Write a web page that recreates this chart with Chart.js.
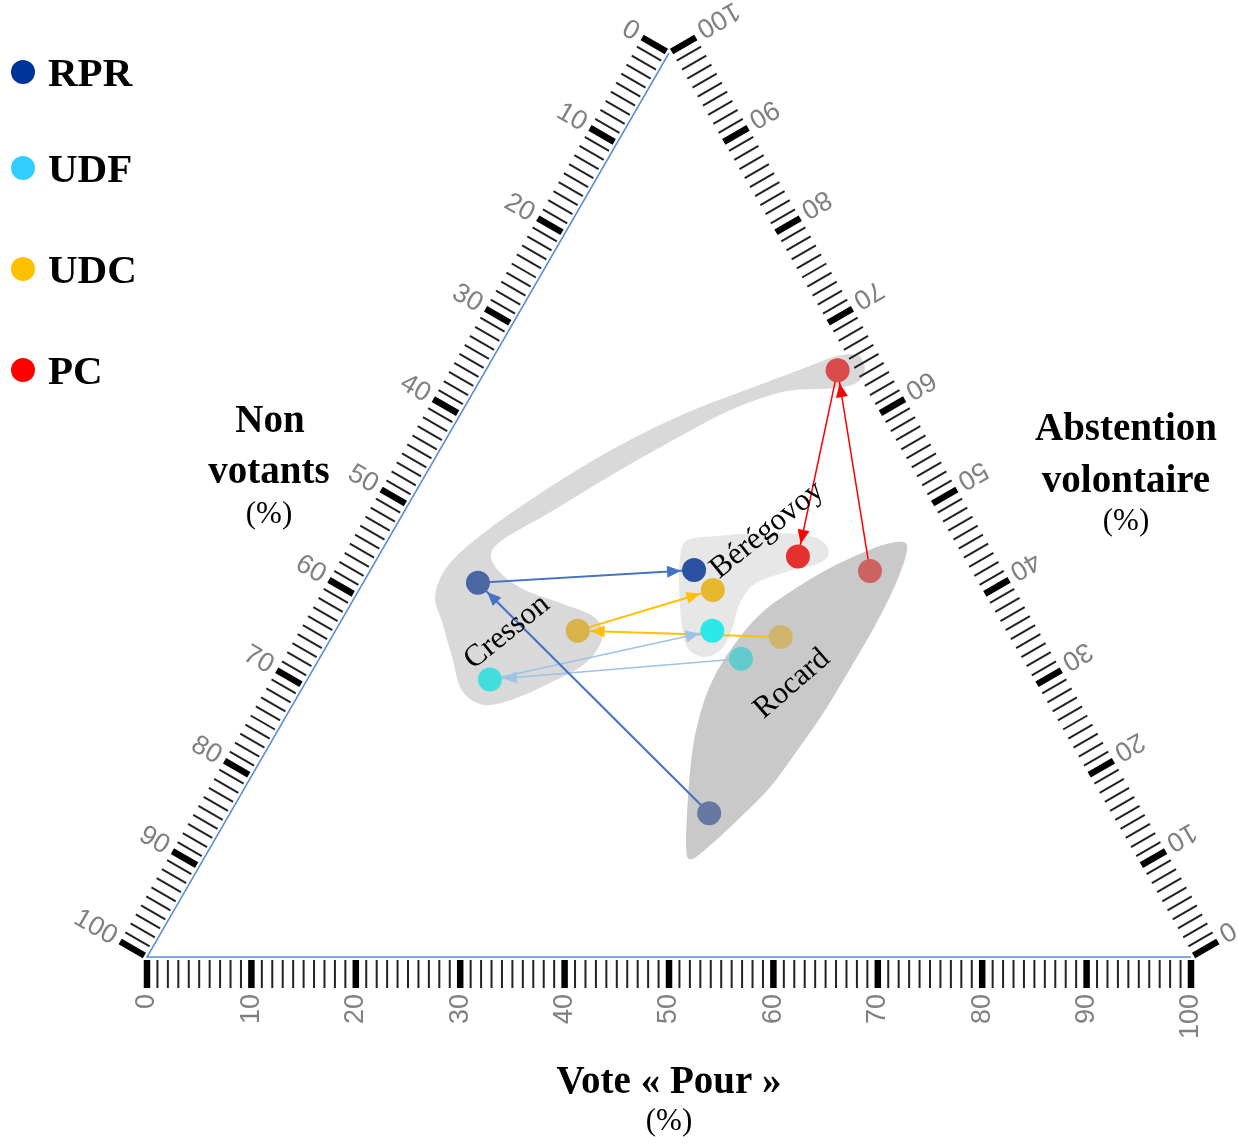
<!DOCTYPE html>
<html>
<head>
<meta charset="utf-8">
<script src="https://cdn.jsdelivr.net/npm/chart.js@4.4.1/dist/chart.umd.min.js"></script>
<style>
  body { margin: 0; background: #fff; }
  #wrap { width: 1238px; height: 1146px; }
</style>
</head>
<body>
<div id="wrap"><canvas id="ternary" width="1238" height="1146"></canvas></div>
<script>
// each party: [Rocard, Cresson, Bérégovoy] in % (non votants = 100 - pour - abstention)
const governments = ['Rocard', 'Cresson', 'Bérégovoy'];
const parties = ['RPR', 'UDF', 'UDC', 'PC'];
const rprPour = [45.9, 11.0, 31.0];
const rprAbst = [15.9, 41.4, 42.8];
const udfPour = [40.4, 17.5, 36.1];
const udfAbst = [33.0, 30.7, 36.1];
const udcPour = [43.0, 23.2, 33.9];
const udcAbst = [35.4, 36.1, 40.6];
const pcPour = [47.9, 33.7, 40.2];
const pcAbst = [42.7, 64.9, 44.3];

const axisTicks = [0, 10, 20, 30, 40, 50, 60, 70, 80, 90, 100];

// group outlines, [pour, abstention]
const cressonHull = [[7.6, 40.0], [7.2, 43.4], [9.0, 47.2], [12.8, 52.2], [17.0, 56.6], [21.6, 60.2], [26.5, 63.0],
  [30.3, 65.1], [32.9, 66.5], [34.9, 66.5], [36.3, 64.9], [36.1, 63.4], [34.0, 62.9], [30.0, 62.6], [26.1, 60.8],
  [22.7, 58.0], [18.4, 53.9], [14.2, 49.4], [11.1, 46.3], [10.7, 44.5], [12.6, 42.5], [15.9, 40.6], [20.5, 39.0],
  [24.2, 37.5], [26.0, 35.1], [25.7, 32.4], [23.3, 30.2], [20.6, 28.4], [18.2, 27.9], [15.4, 29.5], [12.7, 33.1], [9.7, 37.1]];
const beregovoyHull = [[28.7, 46.1], [31.6, 46.6], [36.2, 46.9], [40.6, 46.5], [42.8, 45.0], [42.7, 43.6], [40.2, 42.7],
  [37.7, 41.4], [37.2, 39.3], [37.9, 36.2], [38.0, 34.1], [36.9, 33.2], [34.9, 34.0], [33.2, 36.2], [31.0, 40.0], [29.0, 44.1]];
const rocardHull = [[49.5, 45.9], [50.4, 44.7], [51.1, 41.1], [51.4, 36.7], [51.4, 32.0], [51.3, 27.3], [50.9, 23.2],
  [50.3, 18.8], [49.1, 15.4], [47.5, 11.8], [46.6, 10.8], [45.6, 12.1], [43.6, 16.3], [40.8, 22.9], [39.3, 27.9],
  [38.8, 31.7], [39.1, 35.4], [40.0, 38.4], [42.0, 41.1], [44.6, 43.6], [47.5, 45.5]];

const partyColors = ['#003399', '#33ccff', '#ffc000', '#ff0000'];
const lineColors = ['#4472c4', '#9dc3e6', '#ffc000', '#ff0000'];
const lineWidths = [2, 1.5, 2, 1.5];
const pointColors = [
  ['#6779a3', '#4a66a3', '#2b52a0'],
  ['#62cccc', '#44dddd', '#2ee8e8'],
  ['#cfb56c', '#d9b34a', '#e6b830'],
  ['#cc6262', '#d94a4a', '#e63030'],
];

const SQ3 = Math.sqrt(3) / 2;
const toXY = (pour, abst) => ({ x: pour + abst / 2, y: abst * SQ3 });
const POINT_R = 12;

const allPour = [rprPour, udfPour, udcPour, pcPour];
const allAbst = [rprAbst, udfAbst, udcAbst, pcAbst];

function pix(chart, pour, abst) {
  const q = toXY(pour, abst);
  return { x: chart.scales.x.getPixelForValue(q.x), y: chart.scales.y.getPixelForValue(q.y) };
}

function smoothClosed(ctx, pts) {
  const n = pts.length;
  ctx.beginPath();
  ctx.moveTo(pts[0].x, pts[0].y);
  for (let i = 0; i < n; i++) {
    const p0 = pts[(i - 1 + n) % n], p1 = pts[i], p2 = pts[(i + 1) % n], p3 = pts[(i + 2) % n];
    ctx.bezierCurveTo(p1.x + (p2.x - p0.x) / 6, p1.y + (p2.y - p0.y) / 6,
      p2.x - (p3.x - p1.x) / 6, p2.y - (p3.y - p1.y) / 6, p2.x, p2.y);
  }
  ctx.closePath();
  ctx.fill();
}

const datasets = [];
parties.forEach((party, i) => {
  const pts = governments.map((g, k) => toXY(allPour[i][k], allAbst[i][k]));
  datasets.push({
    label: party + ' path',
    data: pts,
    showLine: true,
    borderColor: lineColors[i],
    borderWidth: lineWidths[i],
    pointRadius: 0,
    order: 2,
  });
  datasets.push({
    label: party,
    data: pts,
    pointRadius: POINT_R,
    pointHoverRadius: POINT_R,
    pointBackgroundColor: pointColors[i],
    pointBorderWidth: 0,
    borderColor: 'rgba(0,0,0,0)',
    order: 1,
  });
});

const ternaryDecor = {
  id: 'ternaryDecor',
  beforeDatasetsDraw(chart) {
    const ctx = chart.ctx;
    ctx.save();

    // group hulls
    [[cressonHull, '#d9d9d9'], [beregovoyHull, '#e7e7e7'], [rocardHull, '#c9c9c9']].forEach(([hull, col]) => {
      ctx.fillStyle = col;
      smoothClosed(ctx, hull.map(h => pix(chart, h[0], h[1])));
    });

    const bl = pix(chart, 0, 0), br = pix(chart, 100, 0), top = pix(chart, 0, 100);

    // left and bottom edges
    ctx.strokeStyle = '#5b8bd6';
    ctx.lineWidth = 1.5;
    ctx.beginPath();
    ctx.moveTo(top.x, top.y);
    ctx.lineTo(bl.x, bl.y);
    ctx.lineTo(br.x, br.y);
    ctx.stroke();

    // rulers: point on edge for value v, outward normal n, label nudge along the edge
    const edges = [
      { at: v => pix(chart, v, 0), n: { x: 0, y: 1 }, shift: { x: 0, y: 0 } },
      { at: v => pix(chart, 0, 100 - v), n: { x: -SQ3, y: -0.5 }, shift: { x: 0, y: 0 } },
      { at: v => pix(chart, 100 - v, v), n: { x: SQ3, y: -0.5 }, shift: { x: -2.5, y: -4 } },
    ];
    edges.forEach(edge => {
      const n = edge.n;
      for (let v = 0; v <= 100; v++) {
        const p = edge.at(v);
        const major = v % 10 === 0;
        ctx.strokeStyle = major ? '#000' : '#222';
        ctx.lineWidth = major ? 6.5 : 2;
        ctx.beginPath();
        ctx.moveTo(p.x + n.x * 3, p.y + n.y * 3);
        ctx.lineTo(p.x + n.x * 31, p.y + n.y * 31);
        ctx.stroke();
      }
      const ang = Math.atan2(-n.y, -n.x);
      ctx.fillStyle = '#808080';
      ctx.font = '27px "Liberation Sans", Arial, sans-serif';
      ctx.textAlign = 'right';
      ctx.textBaseline = 'middle';
      axisTicks.forEach(v => {
        const p = edge.at(v);
        ctx.save();
        ctx.translate(p.x + n.x * 37 + edge.shift.x, p.y + n.y * 37 + edge.shift.y);
        ctx.rotate(ang);
        ctx.fillText(String(v), 0, 0);
        ctx.restore();
      });
    });

    // axis titles
    ctx.fillStyle = '#000';
    ctx.textAlign = 'center';
    ctx.textBaseline = 'alphabetic';
    const bold = 'bold 39px "Liberation Serif", "Times New Roman", serif';
    const reg = '31px "Liberation Serif", "Times New Roman", serif';
    ctx.font = bold;
    ctx.fillText('Non', 270, 432);
    ctx.fillText('votants', 269, 483);
    ctx.fillText('Abstention', 1126, 440);
    ctx.fillText('volontaire', 1126, 492);
    ctx.fillText('Vote « Pour »', 669, 1093);
    ctx.font = reg;
    ctx.fillText('(%)', 269, 523);
    ctx.fillText('(%)', 1126, 530);
    ctx.fillText('(%)', 669, 1130);

    // legend
    const legendY = [72, 168, 269, 370];
    parties.forEach((party, i) => {
      ctx.fillStyle = partyColors[i];
      ctx.beginPath();
      ctx.arc(23, legendY[i], 12, 0, Math.PI * 2);
      ctx.fill();
      ctx.fillStyle = '#000';
      ctx.font = 'bold 41px "Liberation Serif", "Times New Roman", serif';
      ctx.textAlign = 'left';
      ctx.fillText(party, 48, legendY[i] + 14);
    });
    ctx.restore();
  },
  afterDatasetsDraw(chart) {
    const ctx = chart.ctx;
    ctx.save();
    // arrow heads
    parties.forEach((party, i) => {
      for (let k = 0; k < governments.length - 1; k++) {
        const a = pix(chart, allPour[i][k], allAbst[i][k]);
        const b = pix(chart, allPour[i][k + 1], allAbst[i][k + 1]);
        const len = Math.hypot(b.x - a.x, b.y - a.y);
        const ux = (b.x - a.x) / len, uy = (b.y - a.y) / len;
        const tx = b.x - ux * (POINT_R + 1), ty = b.y - uy * (POINT_R + 1);
        const bx = tx - ux * 14, by = ty - uy * 14;
        ctx.fillStyle = lineColors[i];
        ctx.beginPath();
        ctx.moveTo(tx, ty);
        ctx.lineTo(bx - uy * 6, by + ux * 6);
        ctx.lineTo(bx + uy * 6, by - ux * 6);
        ctx.closePath();
        ctx.fill();
      }
    });

    // group names
    ctx.fillStyle = '#000';
    ctx.font = '31px "Liberation Serif", "Times New Roman", serif';
    ctx.textAlign = 'center';
    ctx.textBaseline = 'middle';
    [['Cresson', 507, 632, -39], ['Bérégovoy', 767, 530, -39], ['Rocard', 792, 684, -41]].forEach(([t, x, y, deg]) => {
      ctx.save();
      ctx.translate(x, y);
      ctx.rotate(deg * Math.PI / 180);
      ctx.fillText(t, 0, 0);
      ctx.restore();
    });
    ctx.restore();
  }
};

new Chart(document.getElementById('ternary'), {
  type: 'scatter',
  data: { datasets },
  options: {
    responsive: false,
    animation: false,
    events: [],
    layout: { padding: { left: 147, right: 47, top: 53, bottom: 189 } },
    scales: {
      x: { type: 'linear', min: 0, max: 100, display: false },
      y: { type: 'linear', min: 0, max: 100 * SQ3, display: false },
    },
    plugins: {
      legend: { display: false },
      tooltip: { enabled: false },
    },
  },
  plugins: [ternaryDecor],
});
</script>
</body>
</html>
